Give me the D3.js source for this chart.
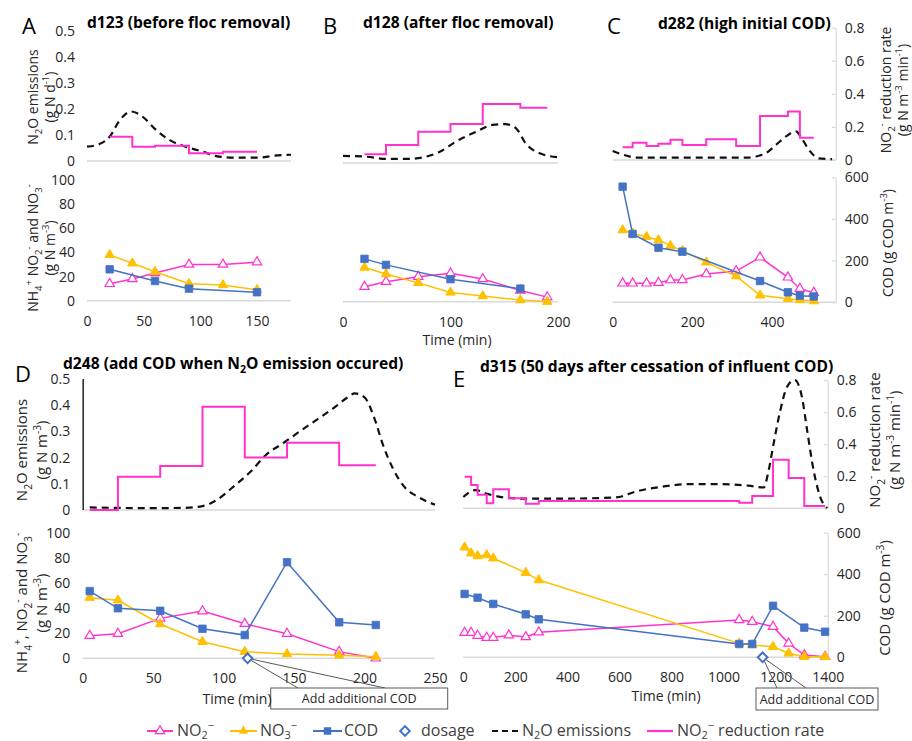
<!DOCTYPE html>
<html>
<head>
<meta charset="utf-8">
<script src="https://cdn.jsdelivr.net/npm/d3@7/dist/d3.min.js"></script>
<style>
  body { margin: 0; background: #fff; }
  svg { display: block; font-family: "Open Sans", "Noto Sans", sans-serif; }
</style>
</head>
<body>
<svg id="chart" width="912" height="741"></svg>
<script>
// ---------- Panel A: d123 ----------
const timeA = [20, 40, 60, 90, 120, 150];
const no2A = [14, 18, 23, 30, 30, 32];
const no3A = [38, 31, 24, 14, 13, 9];
const codTimeA = [20, 60, 90, 150];
const codA = [156, 98, 60, 42];
const rateA = [0.149, 0.088, 0.094, 0.047, 0.057, 0.057];
const n2oTimeA = [0, 11, 20, 29, 39, 49, 61, 73, 87, 102, 114, 128, 152, 164, 180];
const n2oA = [0.055, 0.065, 0.093, 0.157, 0.19, 0.17, 0.119, 0.08, 0.055, 0.036, 0.019, 0.013, 0.013, 0.02, 0.024];

// ---------- Panel B: d128 ----------
const timeB = [20, 40, 70, 100, 130, 165, 190];
const no2B = [12.4, 16.6, 20.7, 23.5, 18.8, 9.3, 3.8];
const no3B = [28.3, 23, 15.6, 7.7, 4.7, 1.4, 0];
const codTimeB = [20, 40, 100, 165];
const codB = [213, 183, 112, 65];
const rateB = [0.053, 0.11, 0.192, 0.239, 0.362, 0.339, 0.339];
const n2oTimeB = [0, 22, 40, 62, 77, 90, 105, 124, 139, 151, 161, 170, 183, 200];
const n2oB = [0.027, 0.024, 0.016, 0.016, 0.024, 0.043, 0.082, 0.12, 0.146, 0.149, 0.133, 0.075, 0.037, 0.022];

// ---------- Panel C: d282 ----------
const timeC = [25, 50, 85, 115, 145, 175, 235, 310, 370, 440, 470, 505];
const no2C = [15.2, 15.2, 15.2, 15.7, 17.8, 17.9, 22.6, 25, 36, 20, 10.9, 7.7];
const no3C = [57.8, 55, 52.5, 49.8, 45.3, 41.3, 32, 21, 5.6, 2.9, 1.8, 1];
const codTimeC = [25, 50, 115, 175, 370, 440, 470, 505];
const codC = [555, 328, 262, 243, 102, 48, 32, 28];
const rateC = [0.077, 0.105, 0.085, 0.099, 0.123, 0.091, 0.125, 0.085, 0.266, 0.294, 0.135, 0.135];
const n2oTimeC = [0, 43, 60, 340, 360, 385, 410, 435, 460, 477, 493, 518, 551];
const n2oC = [0.034, 0.013, 0.009, 0.009, 0.013, 0.026, 0.057, 0.089, 0.108, 0.076, 0.038, 0.006, 0.003];

// ---------- Panel D: d248 ----------
const timeD = [5, 25, 55, 85, 115, 145, 182, 208];
const no2D = [18, 19.6, 31.8, 37.6, 27.5, 19.6, 5.3, 0];
const no3D = [48.3, 46.2, 27.3, 13.2, 5.3, 3.4, 2.4, 1.3];
const codTimeD = [5, 25, 55, 85, 115, 145, 182, 208];
const codD = [321, 239, 227, 141, 111, 459, 172, 159];
const rateD = [0, 0.203, 0.269, 0.63, 0.32, 0.41, 0.273, 0.273];
const n2oTimeD = [5, 25, 45, 70, 85, 95, 107, 119, 130, 142, 154, 166, 178, 188, 193, 200, 207, 213, 220, 228, 238, 250];
const n2oD = [0.01, 0.008, 0.007, 0.008, 0.015, 0.038, 0.089, 0.146, 0.21, 0.254, 0.3, 0.344, 0.389, 0.43, 0.445, 0.43, 0.35, 0.25, 0.16, 0.09, 0.05, 0.02];
const dosageD = [117];

// ---------- Panel E: d315 ----------
const timeE = [5, 30, 55, 90, 115, 175, 240, 290, 1060, 1110, 1190, 1250, 1310, 1390];
const no2E = [19.8, 19.8, 17.4, 15.8, 15.8, 17.7, 16.3, 20.1, 30, 28.6, 24.6, 11.2, 1.8, 0.5];
const no3TimeE = [5, 30, 55, 90, 115, 240, 290, 1060, 1110, 1190, 1250, 1310, 1390];
const no3E = [88.3, 83.5, 81.3, 82.1, 79.5, 67.9, 62, 11.2, 9.9, 8.5, 3.2, 0.5, 0.5];
const codTimeE = [5, 55, 115, 240, 290, 1060, 1110, 1190, 1310, 1390];
const codE = [305, 287, 257, 207, 183, 64, 64, 248, 143, 123];
const rateE = [0.197, 0.146, 0.084, 0.031, 0.119, 0.063, 0.029, 0.046, 0.035, 0.077, 0.302, 0.189, 0.014, 0.014];
const n2oTimeE = [0, 45, 96, 160, 225, 400, 583, 673, 763, 865, 994, 1096, 1154, 1173, 1192, 1218, 1244, 1273, 1301, 1321, 1346, 1372, 1398];
const n2oE = [0.044, 0.071, 0.055, 0.042, 0.038, 0.038, 0.042, 0.068, 0.084, 0.094, 0.094, 0.088, 0.081, 0.147, 0.251, 0.382, 0.474, 0.5, 0.434, 0.304, 0.147, 0.042, 0.001];
const dosageE = [1150];

// ---------- Axis ticks ----------
const n2oTicks = [0, 0.1, 0.2, 0.3, 0.4, 0.5];
const nTicks = [0, 20, 40, 60, 80, 100];
const rateTicks = [0, 0.2, 0.4, 0.6, 0.8];
const codTicks = [0, 200, 400, 600];
const xTicksA = [0, 50, 100, 150];
const xTicksB = [0, 100, 200];
const xTicksC = [0, 200, 400];
const xTicksD = [0, 50, 100, 150, 200, 250];
const xTicksE = [0, 200, 400, 600, 800, 1000, 1200, 1400];

const titles = {
  A: "d123 (before floc removal)",
  B: "d128 (after floc removal)",
  C: "d282 (high initial COD)",
  D: "d248 (add COD when N_{2}O emission occured)",
  E: "d315 (50 days after cessation of influent COD)"
};
const legendLabels = ["NO_{2}^{−}", "NO_{3}^{−}", "COD", "dosage", "N_{2}O emissions", "NO_{2}^{−} reduction rate"];
const noteText = "Add additional COD";

// ---------- styles ----------
const PINK = "#ff33cc", YEL = "#ffc000", BLUE = "#4472c4", AXC = "#d9d9d9", TXT = "#262626";

const svg = d3.select("#chart");
const zip = (a, b) => a.map((v, i) => [v, b[i]]);

// text with _{sub} and ^{sup} markup
function rich(sel, str, fs, subOff = 0.28) {
  const re = /([_^])\{([^}]*)\}/g;
  let last = 0, m, cur = 0;
  const add = (t, off, small) => {
    if (!t) return;
    const ts = sel.append("tspan").text(t).attr("dy", off - cur);
    if (small) ts.attr("font-size", fs * 0.68);
    cur = off;
  };
  while ((m = re.exec(str))) {
    add(str.slice(last, m.index), 0, false);
    add(m[2], m[1] === "_" ? fs * subOff : -fs * 0.42, true);
    last = re.lastIndex;
  }
  add(str.slice(last), 0, false);
  return sel;
}

function vText(cx, cy, str, fs) {
  const t = svg.append("text")
    .attr("transform", `translate(${cx + fs * 0.36},${cy}) rotate(-90)`)
    .attr("text-anchor", "middle").attr("font-size", fs).attr("fill", TXT);
  rich(t, str, fs);
}

function hText(x, y, str, fs, opts = {}) {
  const t = svg.append("text").attr("x", x).attr("y", y)
    .attr("font-size", fs).attr("fill", opts.fill || TXT)
    .attr("text-anchor", opts.anchor || "start")
    .attr("font-weight", opts.weight || "normal");
  rich(t, str, fs);
  return t;
}

const triOpen = d3.symbol(d3.symbolTriangle, 38);
const triFill = d3.symbol(d3.symbolTriangle, 38);
const sq = d3.symbol(d3.symbolSquare, 56);
const dia = d3.symbol(d3.symbolSquare, 46);

function styleAxis(g) {
  g.attr("font-family", "Open Sans, sans-serif").attr("font-size", 14).style("color", TXT);
}

function drawPanel(L, d) {
  const g = svg.append("g");
  const x = d3.scaleLinear().domain(L.dom).range(L.x);
  const yN2O = d3.scaleLinear().domain([0, 0.5]).range(L.top);
  const yRate = d3.scaleLinear().domain([0, 0.8]).range(L.top);
  const yN = d3.scaleLinear().domain([0, 100]).range(L.bot);
  const yCOD = d3.scaleLinear().domain([0, 600]).range(L.bot);

  // horizontal base lines of both plots
  [L.top[0], L.bot[0]].forEach(y => g.append("line")
    .attr("x1", L.x[0]).attr("x2", L.x[1]).attr("y1", y).attr("y2", y)
    .attr("stroke", AXC).attr("stroke-width", 1.5));

  // time axis
  const xa = g.append("g").attr("transform", `translate(0,${L.bot[0]})`)
    .call(d3.axisBottom(x).tickValues(L.xTicks).tickSize(0).tickPadding(15).tickFormat(d3.format("d")));
  xa.select(".domain").remove();
  styleAxis(xa);

  if (L.left) {
    const la = g.append("g").attr("transform", `translate(${L.x[0]},0)`)
      .call(d3.axisLeft(yN2O).tickValues(n2oTicks).tickSize(0).tickPadding(L.leftPad).tickFormat(d3.format("~g")));
    la.select(".domain").remove();
    styleAxis(la);
    const lb = g.append("g").attr("transform", `translate(${L.x[0]},0)`)
      .call(d3.axisLeft(yN).tickValues(nTicks).tickSize(0).tickPadding(L.leftPad));
    lb.select(".domain").remove();
    styleAxis(lb);
    if (L.leftLine) {
      g.append("line").attr("x1", L.x[0] + 0.5).attr("x2", L.x[0] + 0.5)
        .attr("y1", L.top[1]).attr("y2", L.top[0]).attr("stroke", "#222").attr("stroke-width", 1.5);
    }
  }
  if (L.right) {
    [[yRate, rateTicks, d3.format("~g")], [yCOD, codTicks, d3.format("d")]].forEach(([ys, tv, fmt]) => {
      const ra = g.append("g").attr("transform", `translate(${L.x[1]},0)`)
        .call(d3.axisRight(ys).tickValues(tv).tickSizeInner(-4).tickSizeOuter(0).tickPadding(9).tickFormat(fmt));
      ra.select(".domain").attr("stroke", AXC).attr("stroke-width", 1.2);
      ra.selectAll(".tick line").attr("stroke", AXC).attr("stroke-width", 1.2);
      styleAxis(ra);
    });
  }

  // N2O emissions (dashed) and NO2- reduction rate (step)
  g.append("path").datum(zip(d.n2oT, d.n2o))
    .attr("d", d3.line().x(p => x(p[0])).y(p => yN2O(p[1])).curve(d3.curveMonotoneX))
    .attr("fill", "none").attr("stroke", "#111").attr("stroke-width", 2.2).attr("stroke-dasharray", "7,5");
  g.append("path").datum(zip(d.t, d.rate))
    .attr("d", d3.line().x(p => x(p[0])).y(p => yRate(p[1])).curve(d3.curveStepAfter))
    .attr("fill", "none").attr("stroke", PINK).attr("stroke-width", 2);

  // concentrations
  const ln = (ys) => d3.line().x(p => x(p[0])).y(p => ys(p[1]));
  const no2 = zip(d.t, d.no2), no3 = zip(d.no3T || d.t, d.no3), cod = zip(d.codT, d.cod);
  g.append("path").datum(no2).attr("d", ln(yN)).attr("fill", "none").attr("stroke", PINK).attr("stroke-width", 1.5);
  g.selectAll(null).data(no2).join("path").attr("d", triOpen)
    .attr("transform", p => `translate(${x(p[0])},${yN(p[1])})`)
    .attr("fill", "#fff").attr("stroke", PINK).attr("stroke-width", 1.2);
  g.append("path").datum(no3).attr("d", ln(yN)).attr("fill", "none").attr("stroke", YEL).attr("stroke-width", 1.5);
  g.selectAll(null).data(no3).join("path").attr("d", triFill)
    .attr("transform", p => `translate(${x(p[0])},${yN(p[1])})`)
    .attr("fill", YEL).attr("stroke", YEL).attr("stroke-width", 1);
  g.append("path").datum(cod).attr("d", ln(yCOD)).attr("fill", "none").attr("stroke", BLUE).attr("stroke-width", 1.5);
  g.selectAll(null).data(cod).join("path").attr("d", sq)
    .attr("transform", p => `translate(${x(p[0])},${yCOD(p[1])})`)
    .attr("fill", BLUE).attr("stroke", BLUE).attr("stroke-width", 0.8);

  // time-axis title (drawn before the callout box, which sits over its end)
  if (L.xlabel) hText(L.xlabel[0], L.xlabel[1], "Time (min)", 14, { anchor: "middle" });

  // COD dosage marker with callout
  if (d.dose) {
    d.dose.forEach(t => {
      const px = x(t), py = yN(0);
      const n = L.note;
      n.wedge.forEach(wx => g.append("line").attr("x1", px).attr("y1", py).attr("x2", wx).attr("y2", n.y)
        .attr("stroke", "#595959").attr("stroke-width", 1));
      g.append("rect").attr("x", n.x).attr("y", n.y).attr("width", n.w).attr("height", n.h)
        .attr("fill", "#fff").attr("stroke", "#595959").attr("stroke-width", 1);
      g.append("text").attr("x", n.x + n.w / 2).attr("y", n.y + n.h / 2 + 4.5).attr("text-anchor", "middle")
        .attr("font-size", 12.5).attr("fill", TXT).text(noteText);
      g.append("path").attr("d", dia).attr("transform", `translate(${px},${py}) rotate(45)`)
        .attr("fill", "#fff").attr("stroke", BLUE).attr("stroke-width", 2);
    });
  }

  // titles
  hText(L.title[0], L.title[1], titles[L.id], 15.6, { weight: "bold", fill: "#000" });
  svg.append("text").attr("x", L.letter[0]).attr("y", L.letter[1]).attr("font-size", 22)
    .attr("fill", "#000").text(L.id);
}

// panel layouts
const panels = [
  { L: { id: "A", dom: [0, 180], x: [87, 291], top: [161, 30.7], bot: [300.7, 180], xTicks: xTicksA,
         left: true, leftPad: 12, title: [87, 28], letter: [22, 34] },
    d: { t: timeA, no2: no2A, no3: no3A, codT: codTimeA, cod: codA, rate: rateA, n2oT: n2oTimeA, n2o: n2oA } },
  { L: { id: "B", dom: [0, 200], x: [343, 558], top: [163, 32.5], bot: [301.7, 181], xTicks: xTicksB,
         title: [363, 28], letter: [323, 34], xlabel: [457, 345] },
    d: { t: timeB, no2: no2B, no3: no3B, codT: codTimeB, cod: codB, rate: rateB, n2oT: n2oTimeB, n2o: n2oB } },
  { L: { id: "C", dom: [0, 560], x: [612.7, 835.7], top: [160, 27.7], bot: [302.3, 177.3], xTicks: xTicksC,
         right: true, title: [658, 29], letter: [607, 34] },
    d: { t: timeC, no2: no2C, no3: no3C, codT: codTimeC, cod: codC, rate: rateC, n2oT: n2oTimeC, n2o: n2oC } },
  { L: { id: "D", dom: [0, 250], x: [82.7, 435], top: [510, 379], bot: [658.3, 532.7], xTicks: xTicksD,
         left: true, leftPad: 12.5, leftLine: true, title: [63, 369], letter: [15, 382], xlabel: [237, 704],
         note: { x: 270.7, y: 688, w: 177, h: 21, wedge: [298, 385] } },
    d: { t: timeD, no2: no2D, no3: no3D, codT: codTimeD, cod: codD, rate: rateD, n2oT: n2oTimeD, n2o: n2oD, dose: dosageD } },
  { L: { id: "E", dom: [0, 1400], x: [463.3, 827.7], top: [508.3, 380], bot: [657.3, 532.7], xTicks: xTicksE,
         right: true, title: [480, 372], letter: [453, 387], xlabel: [666, 701],
         note: { x: 756, y: 688, w: 122, h: 22, wedge: [777, 806] } },
    d: { t: timeE, no2: no2E, no3T: no3TimeE, no3: no3E, codT: codTimeE, cod: codE, rate: rateE, n2oT: n2oTimeE, n2o: n2oE, dose: dosageE } }
];
panels.forEach(p => drawPanel(p.L, p.d));

// axis titles
vText(33, 97, "N_{2}O emissions", 14);
vText(50, 97, "(g N d^{-1})", 14);
vText(33, 248, "NH_{4}^{+} NO_{2}^{-} and NO_{3}^{-}", 14);
vText(50, 248, "(g N m^{-3})", 14);
vText(886, 90, "NO_{2}^{-} reduction rate", 14);
vText(903, 90, "(g N m^{-3} min^{-1})", 14);
vText(888, 243, "COD (g COD m^{-3})", 14);
vText(22, 450, "N_{2}O emissions", 15);
vText(42, 450, "(g N m^{-3})", 15);
vText(22, 603, "NH_{4}^{+}, NO_{2}^{-} and NO_{3}^{-}", 15);
vText(42, 603, "(g N m^{-3})", 15);
vText(875, 440, "NO_{2}^{-} reduction rate", 15);
vText(895, 440, "(g N m^{-3} min^{-1})", 15);
vText(885, 598, "COD (g COD m^{-3})", 15);

// legend
const lg = svg.append("g");
const LY = 731;
const legendPos = [
  { x0: 147, x1: 173, tx: 177 },
  { x0: 230, x1: 257, tx: 260 },
  { x0: 313, x1: 342, tx: 344 },
  { x0: 405, x1: 405, tx: 421 },
  { x0: 492, x1: 518, tx: 522 },
  { x0: 647, x1: 673, tx: 677 }
];
const legendStyle = [
  { c: PINK, m: "triOpen" }, { c: YEL, m: "tri" }, { c: BLUE, m: "sq" },
  { c: BLUE, m: "dia" }, { c: "#111", m: "dash" }, { c: PINK, m: "line" }
];
legendLabels.forEach((lab, i) => {
  const p = legendPos[i], s = legendStyle[i], cx = (p.x0 + p.x1) / 2;
  if (s.m !== "dia") {
    lg.append("line").attr("x1", p.x0).attr("x2", p.x1).attr("y1", LY).attr("y2", LY)
      .attr("stroke", s.c).attr("stroke-width", s.m === "line" ? 2.2 : 2)
      .attr("stroke-dasharray", s.m === "dash" ? "6,4" : null);
  }
  if (s.m === "triOpen") lg.append("path").attr("d", triOpen).attr("transform", `translate(${cx},${LY})`).attr("fill", "#fff").attr("stroke", s.c).attr("stroke-width", 1.2);
  if (s.m === "tri") lg.append("path").attr("d", triFill).attr("transform", `translate(${cx},${LY})`).attr("fill", s.c);
  if (s.m === "sq") lg.append("path").attr("d", sq).attr("transform", `translate(${cx},${LY})`).attr("fill", s.c);
  if (s.m === "dia") lg.append("path").attr("d", dia).attr("transform", `translate(${cx},${LY}) rotate(45)`).attr("fill", "#fff").attr("stroke", s.c).attr("stroke-width", 2);
  const t = lg.append("text").attr("x", p.tx).attr("y", LY + 5).attr("font-size", 16).attr("fill", "#404040");
  rich(t, lab, 16, 0.18);
});
</script>
</body>
</html>
